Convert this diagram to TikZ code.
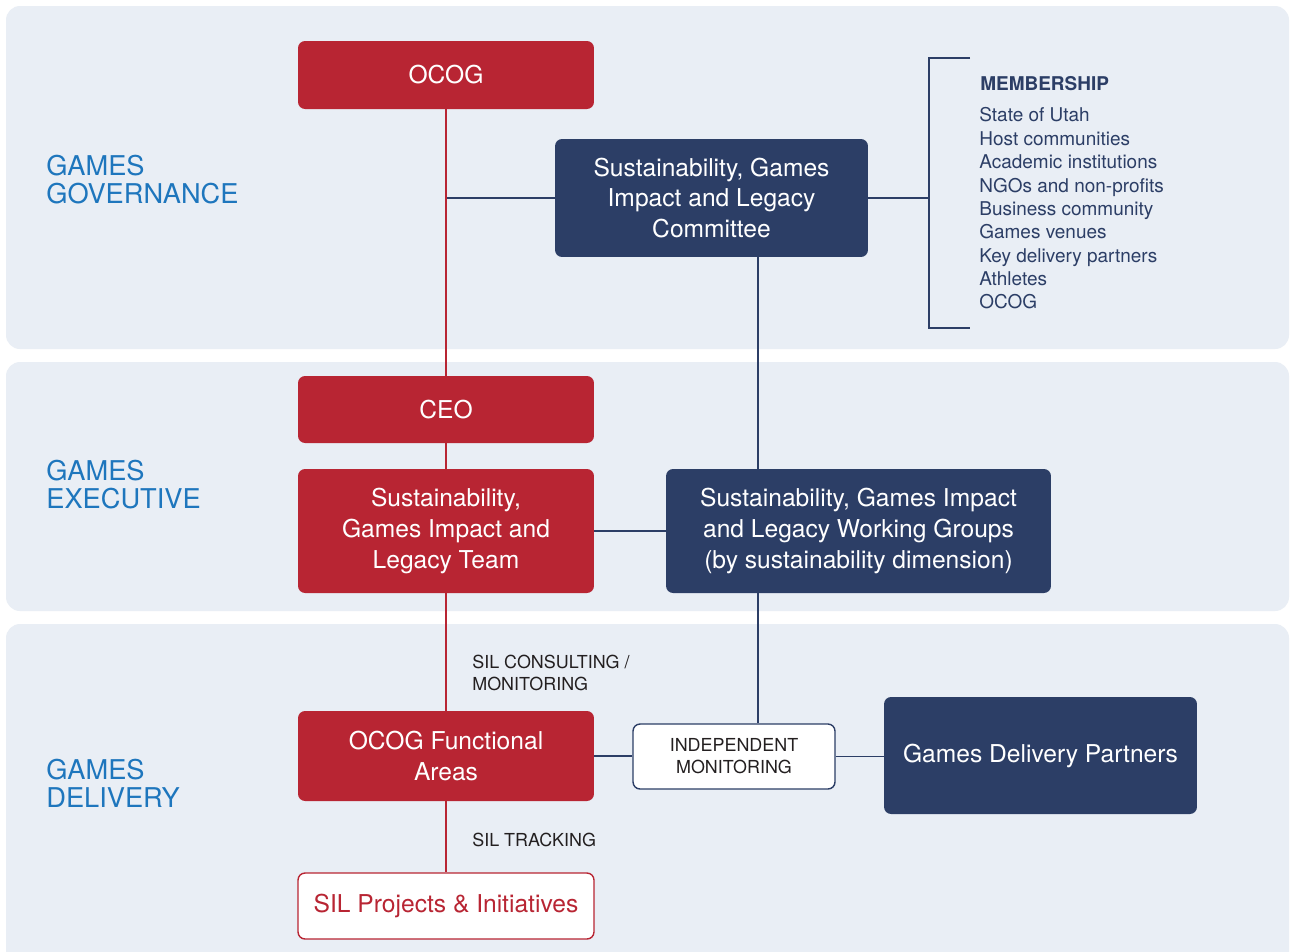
\documentclass[tikz,border=0pt]{standalone}
\usepackage{fontspec}
\setmainfont{TeX Gyre Heros}
\definecolor{ored}{HTML}{B82533}
\definecolor{onavy}{HTML}{2C3E66}
\definecolor{bandbg}{HTML}{E9EEF5}
\definecolor{lblue}{HTML}{1E76BD}
\definecolor{dtext}{HTML}{231F20}
\begin{document}
\begin{tikzpicture}[x=0.02cm,y=-0.02cm,
  boxbase/.style={rounded corners=4pt, inner sep=0pt, align=center, font=\fontsize{14}{17.6}\selectfont},
  redbox/.style={boxbase, fill=ored, text=white},
  navybox/.style={boxbase, fill=onavy, text=white},
  imbox/.style={boxbase, fill=white, draw=onavy, line width=0.8pt, text=dtext, font=\fontsize{10.2}{12.5}\selectfont},
  silbox/.style={boxbase, fill=white, draw=ored, line width=0.8pt, text=ored},
  grouplabel/.style={anchor=west, inner sep=0pt, align=left, text=lblue, font=\fontsize{15.5}{15.9}\selectfont},
  connlabel/.style={anchor=west, inner sep=0pt, align=left, text=dtext, font=\fontsize{10.2}{12.5}\selectfont},
  memtext/.style={anchor=west, inner sep=0pt, align=left, text=onavy, font=\fontsize{10.8}{13.3}\selectfont},
  redline/.style={draw=ored, line width=0.7pt},
  navyline/.style={draw=onavy, line width=0.8pt}]
\useasboundingbox (0,0) rectangle (1290,951);
\clip (0,0) rectangle (1290,951);
\fill[white] (0,0) rectangle (1290,951);
% bands
\fill[bandbg, rounded corners=8pt] (6,6) rectangle (1289,349);
\fill[bandbg, rounded corners=8pt] (6,362) rectangle (1289,611);
\fill[bandbg, rounded corners=8pt] (6,624) rectangle (1289,980);
% group labels
\node[grouplabel] (lgov) at (46,180) {GAMES\\GOVERNANCE};
\node[grouplabel] (lexe) at (46,485) {GAMES\\EXECUTIVE};
\node[grouplabel] (ldel) at (46,783) {GAMES\\DELIVERY};
% boxes
\node[redbox, minimum width=59.2mm, minimum height=13.6mm] (ocog) at (446,75) {OCOG};
\node[navybox, minimum width=62.6mm, minimum height=23.6mm] (sgilc) at (711.5,198) {Sustainability, Games\\Impact and Legacy\\Committee};
\node[redbox, minimum width=59.2mm, minimum height=13.4mm] (ceo) at (446,409.5) {CEO};
\node[redbox, minimum width=59.2mm, minimum height=24.8mm] (team) at (446,531) {Sustainability,\\Games Impact and\\Legacy Team};
\node[navybox, minimum width=77mm, minimum height=24.8mm] (wg) at (858.5,531) {Sustainability, Games Impact\\and Legacy Working Groups\\(by sustainability dimension)};
\node[redbox, minimum width=59.2mm, minimum height=18mm] (fa) at (446,756) {OCOG Functional\\Areas};
\node[imbox, minimum width=40.4mm, minimum height=13mm] (im) at (734,756.5) {INDEPENDENT\\MONITORING};
\node[navybox, minimum width=62.6mm, minimum height=23.4mm] (gdp) at (1040.5,755.5) {Games Delivery Partners};
\node[silbox, minimum width=59.2mm, minimum height=13.2mm] (sil) at (446,906) {SIL Projects \& Initiatives};
% membership
\node[memtext, font=\fontsize{10.8}{13.3}\selectfont\bfseries] (mtitle) at (980,84) {MEMBERSHIP};
\node[memtext] (mlist) at (979,208.5) {State of Utah\\Host communities\\Academic institutions\\NGOs and non-profits\\Business community\\Games venues\\Key delivery partners\\Athletes\\OCOG};
% connector labels
\node[connlabel] (lcons) at (472,673) {SIL CONSULTING /\\MONITORING};
\node[connlabel] (ltrack) at (472,840) {SIL TRACKING};
% helper coordinates
\coordinate (nv) at (758,0);
\coordinate (brk) at (929,0);
\coordinate (bt) at (970,58);
\coordinate (bb) at (970,328);
% connectors
\draw[navyline] (ocog.south |- sgilc.west) -- (sgilc.west);
\draw[navyline] (sgilc.east) -- (sgilc.east -| brk);
\draw[navyline] (bt) -- (bt -| brk) -- (bb -| brk) -- (bb);
\draw[navyline] (nv |- sgilc.south) -- (nv |- wg.north);
\draw[navyline] (team) -- (wg);
\draw[navyline] (nv |- wg.south) -- (nv |- im.north);
\draw[navyline] (fa.east) -- (fa.east -| im.west);
\draw[navyline] (im.east) -- (im.east -| gdp.west);
\draw[redline] (ocog) -- (ceo);
\draw[redline] (ceo) -- (team);
\draw[redline] (team) -- (fa);
\draw[redline] (fa) -- (sil);
\end{tikzpicture}
\end{document}
